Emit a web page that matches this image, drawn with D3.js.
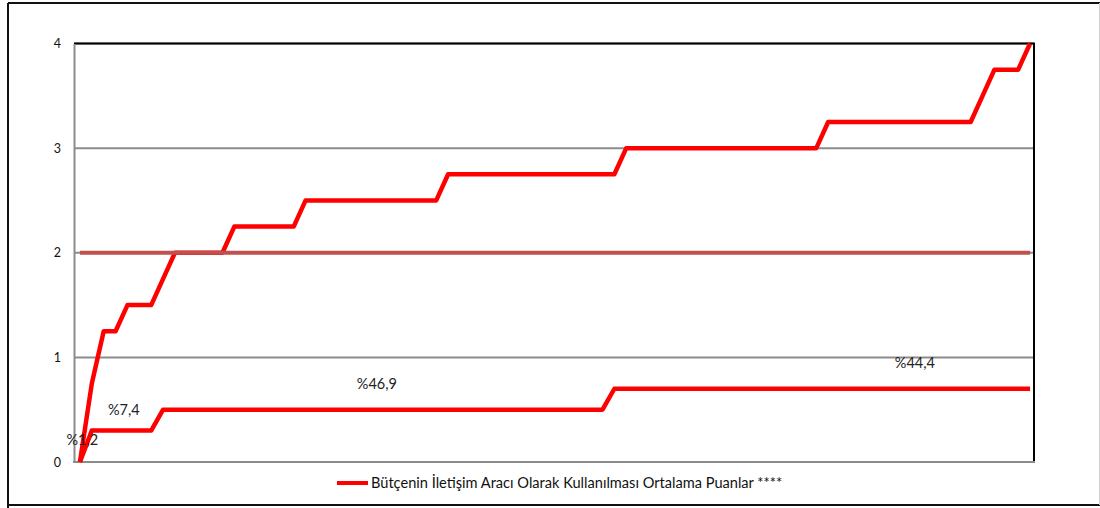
<!DOCTYPE html>
<html>
<head>
<meta charset="utf-8">
<script src="https://cdn.jsdelivr.net/npm/d3@7"></script>
<style>
  body { margin: 0; background: #fff; }
  svg { display: block; font-family: Lato, "Liberation Sans", sans-serif; }
</style>
</head>
<body>
<div id="main-div"></div>
<script>
// data (81 categories)
var categories = d3.range(1, 82);

var upperValues = [
  0, 0.75, 1.25, 1.25, 1.5, 1.5, 1.5, 1.75,
  2, 2, 2, 2, 2,
  2.25, 2.25, 2.25, 2.25, 2.25, 2.25,
  2.5, 2.5, 2.5, 2.5, 2.5, 2.5, 2.5, 2.5, 2.5, 2.5, 2.5, 2.5,
  2.75, 2.75, 2.75, 2.75, 2.75, 2.75, 2.75, 2.75, 2.75, 2.75, 2.75, 2.75, 2.75, 2.75, 2.75,
  3, 3, 3, 3, 3, 3, 3, 3, 3, 3, 3, 3, 3, 3, 3, 3, 3,
  3.25, 3.25, 3.25, 3.25, 3.25, 3.25, 3.25, 3.25, 3.25, 3.25, 3.25, 3.25, 3.25,
  3.5,
  3.75, 3.75, 3.75,
  4
];

var lowerValues = [
  0,
  0.3, 0.3, 0.3, 0.3, 0.3, 0.3,
  0.5, 0.5, 0.5, 0.5, 0.5, 0.5, 0.5, 0.5, 0.5, 0.5,
  0.5, 0.5, 0.5, 0.5, 0.5, 0.5, 0.5, 0.5, 0.5, 0.5,
  0.5, 0.5, 0.5, 0.5, 0.5, 0.5, 0.5, 0.5, 0.5, 0.5,
  0.5, 0.5, 0.5, 0.5, 0.5, 0.5, 0.5, 0.5,
  0.7, 0.7, 0.7, 0.7, 0.7, 0.7, 0.7, 0.7, 0.7, 0.7,
  0.7, 0.7, 0.7, 0.7, 0.7, 0.7, 0.7, 0.7, 0.7, 0.7,
  0.7, 0.7, 0.7, 0.7, 0.7, 0.7, 0.7, 0.7, 0.7, 0.7,
  0.7, 0.7, 0.7, 0.7, 0.7, 0.7
];

var refLevel = 2;

var yTicks = [0, 1, 2, 3, 4];

// data labels: text, category, value
var labelTexts = ["%1,2", "%7,4", "%46,9", "%44,4"];
var labelCats = [1.2, 4.7, 26, 71.3];
var labelValues = [0.21, 0.5, 0.75, 0.95];

var legendText = "Bütçenin İletişim Aracı Olarak Kullanılması Ortalama Puanlar ****";

// dimensions
var W = 1100, H = 508;
var plot = { left: 74, right: 1034, top: 43.5, bottom: 462 };

var svg = d3
  .select("#main-div")
  .append("svg")
  .attr("width", W)
  .attr("height", H);

// outer frame
svg.append("path")
  .attr("d", "M8,1110 L8,3 M8,3 L1110,3 M8,505 L1110,505")
  .attr("stroke", "#111")
  .attr("stroke-width", 2)
  .attr("fill", "none");
svg.append("line")
  .attr("x1", 1099.5).attr("x2", 1099.5)
  .attr("y1", 3).attr("y2", 505)
  .attr("stroke", "#d0d0d0")
  .attr("stroke-width", 1);

// scales
var x = d3.scalePoint()
  .domain(categories)
  .range([plot.left, plot.right + 2])
  .padding(0.5);

var y = d3.scaleLinear()
  .domain([0, 4])
  .range([plot.bottom, plot.top]);

// gridlines
svg.append("g")
  .selectAll("line")
  .data(yTicks)
  .enter()
  .append("line")
  .attr("x1", plot.left)
  .attr("x2", plot.right)
  .attr("y1", function (d) { return y(d); })
  .attr("y2", function (d) { return y(d); })
  .attr("stroke", "#8c8c8c")
  .attr("stroke-width", 2);

// plot frame (black top/right)
svg.append("path")
  .attr("d", "M" + plot.left + "," + plot.top + " L" + plot.right + "," + plot.top + " L" + plot.right + "," + plot.bottom)
  .attr("stroke", "#000")
  .attr("stroke-width", 2)
  .attr("fill", "none");

// left axis
var yAxis = d3.axisLeft(y)
  .tickValues(yTicks)
  .tickFormat(d3.format("d"))
  .tickSize(0)
  .tickPadding(13);
var yg = svg.append("g")
  .attr("transform", "translate(" + plot.left + ",0)")
  .call(yAxis);
yg.select(".domain").attr("stroke", "#8c8c8c").attr("stroke-width", 2);
yg.selectAll("text")
  .attr("font-size", 12.5)
  .attr("fill", "#111")
  .style("font-family", "Lato, sans-serif");

// bottom axis line
svg.append("line")
  .attr("x1", plot.left - 1)
  .attr("x2", plot.right + 1)
  .attr("y1", y(0))
  .attr("y2", y(0))
  .attr("stroke", "#8c8c8c")
  .attr("stroke-width", 2);

var line = d3.line()
  .x(function (d, i) { return x(categories[i]); })
  .y(function (d) { return y(d); });

// series
svg.append("path")
  .datum(upperValues)
  .attr("d", line)
  .attr("fill", "none")
  .attr("stroke", "#ff0000")
  .attr("stroke-width", 4.5)
  .attr("stroke-linejoin", "round");

svg.append("path")
  .datum(lowerValues)
  .attr("d", line)
  .attr("fill", "none")
  .attr("stroke", "#ff0000")
  .attr("stroke-width", 4.5)
  .attr("stroke-linejoin", "round");

// reference level at 2
svg.append("line")
  .attr("x1", x(categories[0]))
  .attr("x2", x(categories[categories.length - 1]))
  .attr("y1", y(refLevel))
  .attr("y2", y(refLevel))
  .attr("stroke", "#c0504d")
  .attr("stroke-width", 4);

// data labels
var xi = d3.scaleLinear()
  .domain([1, categories.length])
  .range([x(categories[0]), x(categories[categories.length - 1])]);

svg.append("g")
  .selectAll("text")
  .data(labelTexts)
  .enter()
  .append("text")
  .attr("x", function (d, i) { return xi(labelCats[i]); })
  .attr("y", function (d, i) { return y(labelValues[i]); })
  .attr("dy", "0.35em")
  .attr("text-anchor", "middle")
  .attr("font-size", 14.5)
  .attr("fill", "#222")
  .text(function (d) { return d; });

// legend
var lg = svg.append("g");
lg.append("line")
  .attr("x1", 337).attr("x2", 368)
  .attr("y1", 483).attr("y2", 483)
  .attr("stroke", "#ff0000")
  .attr("stroke-width", 4);
lg.append("text")
  .attr("x", 371)
  .attr("y", 483)
  .attr("dy", "0.35em")
  .attr("font-size", 14.6)
  .attr("fill", "#111")
  .text(legendText);
</script>
</body>
</html>
